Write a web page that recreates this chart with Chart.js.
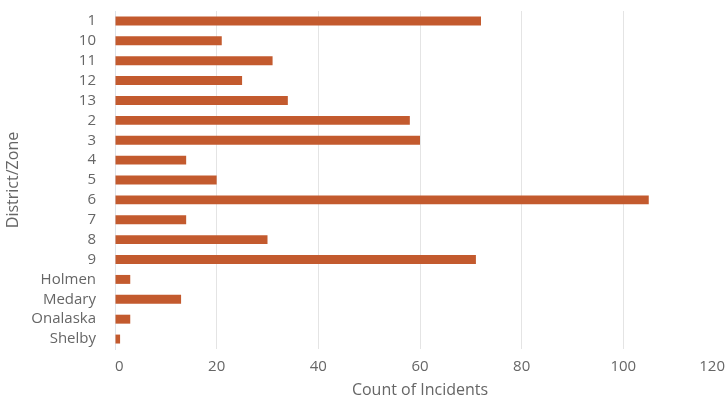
<!DOCTYPE html>
<html>
<head>
<meta charset="utf-8">
<script src="https://cdn.jsdelivr.net/npm/chart.js@4/dist/chart.umd.min.js"></script>
<style>
  html, body { margin: 0; padding: 0; background: #fff; }
  #wrap { width: 725px; height: 400px; }
</style>
</head>
<body>
<div id="wrap"><canvas id="chart"></canvas></div>
<script>
// data
const districts = ["1", "10", "11", "12", "13", "2", "3", "4", "5", "6", "7", "8", "9", "Holmen", "Medary", "Onalaska", "Shelby"];
const incidents = [72, 21, 31, 25, 34, 58, 60, 14, 20, 105, 14, 30, 71, 3, 13, 3, 1];
const xTicks = [0, 20, 40, 60, 80, 100, 120];

const textColor = "#666";
const fontFamily = "'Open Sans', sans-serif";

Chart.defaults.font.family = fontFamily;
Chart.defaults.color = textColor;

const ctx = document.getElementById("chart").getContext("2d");

new Chart(ctx, {
    type: "bar",
    data: {
        labels: districts,
        datasets: [{
            label: "Count of Incidents",
            data: incidents,
            backgroundColor: "#c35a2e",
            barPercentage: 0.9,
            categoryPercentage: 0.5
        }]
    },
    options: {
        indexAxis: "y",
        responsive: true,
        maintainAspectRatio: false,
        animation: false,
        layout: { padding: { top: 11, right: 0, bottom: 0, left: 0 } },
        plugins: {
            legend: { display: false },
            tooltip: { enabled: false }
        },
        scales: {
            x: {
                min: xTicks[0],
                max: xTicks[xTicks.length - 1],
                afterBuildTicks: (scale) => {
                    scale.ticks = xTicks.map(v => ({ value: v }));
                },
                ticks: {
                    align: "inner",
                    padding: 9,
                    font: { size: 15 },
                    color: textColor
                },
                grid: { color: "#e4e4e4", drawTicks: false },
                border: { display: false },
                title: {
                    display: true,
                    text: "Count of Incidents",
                    font: { size: 16 },
                    color: textColor,
                    padding: { top: 4, bottom: 0 }
                },
                // keep the plot running right to the edge
                afterFit: (scale) => {
                    scale.height = 51;
                    scale.paddingLeft = 0;
                    scale.paddingRight = 0;
                }
            },
            y: {
                ticks: {
                    autoSkip: false,
                    padding: 19,
                    font: { size: 15 },
                    color: textColor
                },
                grid: { display: false, drawTicks: false },
                border: { display: true, color: "#dde3ea" },
                title: {
                    display: true,
                    text: "District/Zone",
                    font: { size: 16 },
                    color: textColor,
                    padding: { top: 4, bottom: 0 }
                },
                afterFit: (scale) => {
                    scale.width = 115;
                    scale.paddingTop = 0;
                    scale.paddingBottom = 0;
                }
            }
        }
    }
});
</script>
</body>
</html>
